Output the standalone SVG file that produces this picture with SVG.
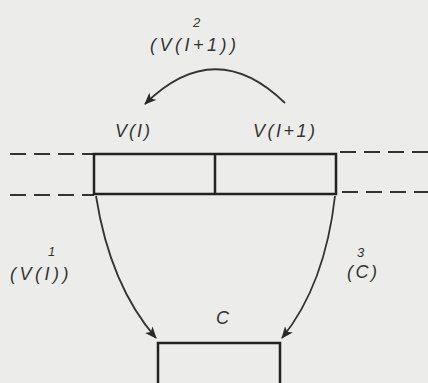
<svg xmlns="http://www.w3.org/2000/svg" width="428" height="383" viewBox="0 0 428 383">
<defs>
<marker id="ah" viewBox="0 0 12 10" refX="11" refY="5" markerWidth="12" markerHeight="10" markerUnits="userSpaceOnUse" orient="auto">
<path d="M0,0 L12,5 L0,10 L3,5 Z" fill="#2a2a2a"/>
</marker>
<style>
.box{fill:none;stroke:#222;stroke-width:2.5}
.dash{fill:none;stroke:#333;stroke-width:2;stroke-dasharray:16,8}
.arc{fill:none;stroke:#333;stroke-width:1.8;marker-end:url(#ah)}
text{font-family:"Liberation Sans",Arial,sans-serif;font-style:italic;fill:#333;font-size:18px;letter-spacing:3px}
.sup{font-size:13px;letter-spacing:0}
</style>
</defs>
<rect width="428" height="383" fill="#ececea"/>
<g id="dashes">
<line class="dash" x1="10" y1="154" x2="94" y2="154"/>
<line class="dash" x1="340" y1="152" x2="428" y2="152"/>
<line class="dash" x1="10" y1="195" x2="94" y2="195"/>
<line class="dash" x1="342" y1="192" x2="428" y2="192"/>
</g>
<g id="array">
<rect class="box" x="94" y="154" width="242" height="40"/>
<line class="box" x1="215" y1="154" x2="215" y2="194"/>
<text x="115" y="137" style="letter-spacing:2px">V(I)</text>
<text x="253" y="137" style="letter-spacing:2.5px">V(I+1)</text>
</g>
<g id="c">
<rect class="box" x="158" y="343" width="122" height="50"/>
<text x="216" y="324">C</text>
</g>
<g id="connectors">
<path class="arc" d="M285,103 Q215,35 145,104"/>
<path class="arc" d="M96,196 Q110,285 156,338"/>
<path class="arc" d="M335,196 Q325,285 282,338"/>
</g>
<g id="labels">
<text x="150" y="51" style="letter-spacing:3.5px">(V(I+1))</text>
<text class="sup" x="193" y="27">2</text>
<text x="10" y="280" style="letter-spacing:3.5px">(V(I))</text>
<text class="sup" x="48" y="256">1</text>
<text x="347" y="278" style="letter-spacing:2.5px">(C)</text>
<text class="sup" x="357" y="257">3</text>
</g>
</svg>
